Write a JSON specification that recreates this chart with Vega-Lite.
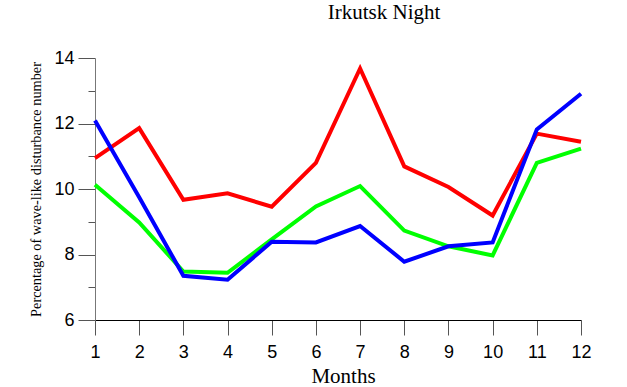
{
  "$schema": "https://vega.github.io/schema/vega-lite/v6.json",
  "autosize": "none",
  "width": 486,
  "height": 262,
  "padding": {"left": 95, "top": 58, "right": 46, "bottom": 67},
  "background": "white",
  "title": {
    "text": "Irkutsk Night",
    "font": "Liberation Serif",
    "fontSize": 21,
    "fontWeight": "normal",
    "color": "black",
    "anchor": "middle",
    "dx": 46,
    "offset": 9,
    "baseline": "alphabetic"
  },
  "config": {
    "view": {"stroke": null},
    "axis": {"grid": false}
  },
  "data": {
    "values": [
      {"month": 1, "series": "red", "value": 10.94},
      {"month": 2, "series": "red", "value": 11.86},
      {"month": 3, "series": "red", "value": 9.67},
      {"month": 4, "series": "red", "value": 9.87},
      {"month": 5, "series": "red", "value": 9.46},
      {"month": 6, "series": "red", "value": 10.8},
      {"month": 7, "series": "red", "value": 13.68},
      {"month": 8, "series": "red", "value": 10.69},
      {"month": 9, "series": "red", "value": 10.06},
      {"month": 10, "series": "red", "value": 9.19},
      {"month": 11, "series": "red", "value": 11.69},
      {"month": 12, "series": "red", "value": 11.44},
      {"month": 1, "series": "green", "value": 10.13},
      {"month": 2, "series": "green", "value": 8.98},
      {"month": 3, "series": "green", "value": 7.48},
      {"month": 4, "series": "green", "value": 7.44},
      {"month": 5, "series": "green", "value": 8.46},
      {"month": 6, "series": "green", "value": 9.47},
      {"month": 7, "series": "green", "value": 10.09},
      {"month": 8, "series": "green", "value": 8.73},
      {"month": 9, "series": "green", "value": 8.25},
      {"month": 10, "series": "green", "value": 7.97},
      {"month": 11, "series": "green", "value": 10.8},
      {"month": 12, "series": "green", "value": 11.23},
      {"month": 1, "series": "blue", "value": 12.09},
      {"month": 2, "series": "blue", "value": 9.75},
      {"month": 3, "series": "blue", "value": 7.35},
      {"month": 4, "series": "blue", "value": 7.23},
      {"month": 5, "series": "blue", "value": 8.39},
      {"month": 6, "series": "blue", "value": 8.37},
      {"month": 7, "series": "blue", "value": 8.87},
      {"month": 8, "series": "blue", "value": 7.78},
      {"month": 9, "series": "blue", "value": 8.25},
      {"month": 10, "series": "blue", "value": 8.37},
      {"month": 11, "series": "blue", "value": 11.82},
      {"month": 12, "series": "blue", "value": 12.91}
    ]
  },
  "mark": {"type": "line", "strokeWidth": 4, "strokeJoin": "miter", "strokeCap": "butt"},
  "encoding": {
    "x": {
      "field": "month",
      "type": "quantitative",
      "scale": {"domain": [1, 12], "nice": false, "zero": false},
      "axis": {
        "values": [1, 2, 3, 4, 5, 6, 7, 8, 9, 10, 11, 12],
        "title": "Months",
        "titleFont": "Liberation Serif",
        "titleFontSize": 21,
        "titleFontWeight": "normal",
        "titleColor": "black",
        "titleX": 248,
        "titleY": 62.5,
        "titleAlign": "center",
        "titleBaseline": "alphabetic",
        "labelFont": "Liberation Sans",
        "labelFontSize": 18,
        "labelColor": "black",
        "labelPadding": 8,
        "labelFlush": false,
        "domainColor": "black",
        "domainWidth": 1,
        "tickColor": "#555555",
        "tickWidth": 1,
        "tickSize": 15
      }
    },
    "y": {
      "field": "value",
      "type": "quantitative",
      "scale": {"domain": [6, 14], "nice": false, "zero": false},
      "axis": {
        "values": [6, 7, 8, 9, 10, 11, 12, 13, 14],
        "labelExpr": "datum.value % 2 == 0 ? datum.label : ''",
        "title": "Percentage  of wave-like disturbance number",
        "titleFont": "Liberation Serif",
        "titleFontSize": 14.3,
        "titleFontWeight": "normal",
        "titleColor": "black",
        "titleAngle": -90,
        "titleX": -55,
        "titleY": 131,
        "titleAlign": "center",
        "titleBaseline": "alphabetic",
        "labelFont": "Liberation Sans",
        "labelFontSize": 18,
        "labelColor": "black",
        "labelPadding": 4,
        "labelFlush": false,
        "domainColor": "#777777",
        "domainWidth": 1,
        "tickColor": "#555555",
        "tickWidth": 1,
        "tickSize": {"condition": {"test": "datum.value % 2 == 0", "value": 17}, "value": 7}
      }
    },
    "color": {
      "field": "series",
      "type": "nominal",
      "scale": {"domain": ["red", "green", "blue"], "range": ["#ff0000", "#00ff00", "#0000ff"]},
      "legend": null
    }
  }
}
